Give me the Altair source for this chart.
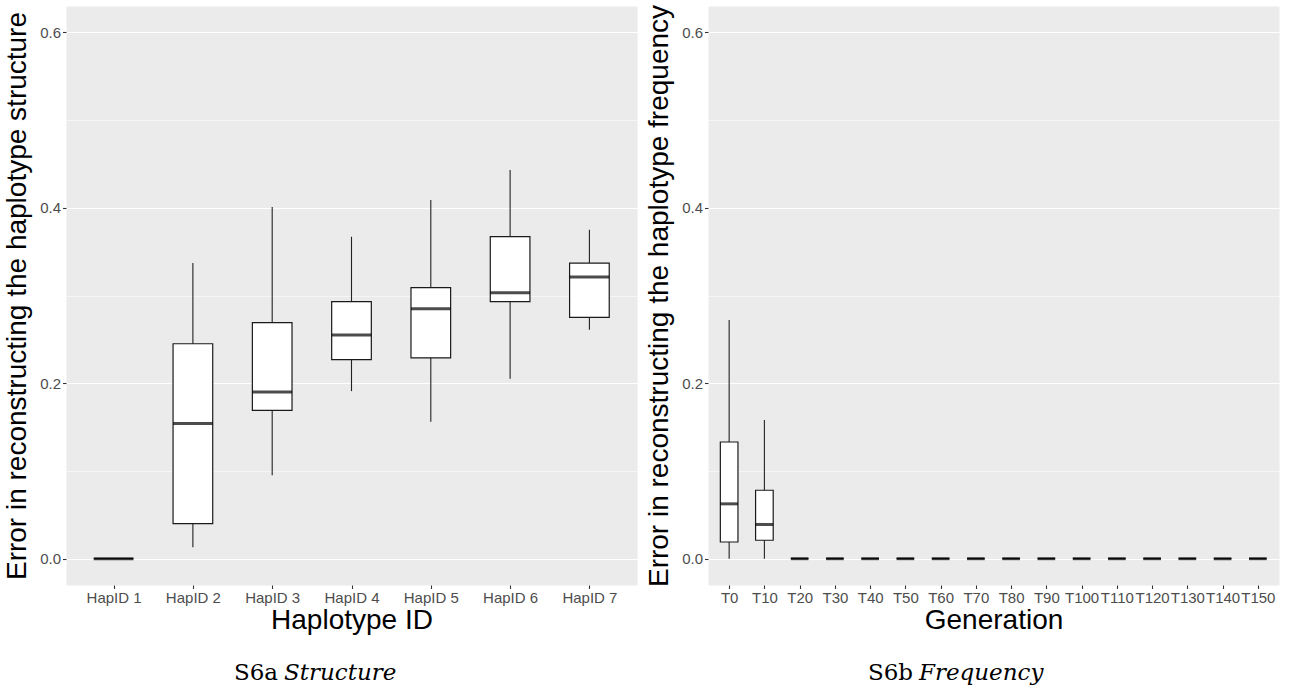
import altair as alt
import pandas as pd

# ---- data ----
hap_ids = ["HapID 1", "HapID 2", "HapID 3", "HapID 4", "HapID 5", "HapID 6", "HapID 7"]
a_lo = [0.0, 0.013, 0.095, 0.191, 0.156, 0.205, 0.261]
a_q1 = [0.0, 0.040, 0.169, 0.227, 0.229, 0.293, 0.275]
a_med = [0.0, 0.154, 0.190, 0.255, 0.285, 0.303, 0.321]
a_q3 = [0.0, 0.245, 0.269, 0.293, 0.309, 0.367, 0.337]
a_hi = [0.0, 0.337, 0.401, 0.367, 0.409, 0.443, 0.375]

generations = ["T0", "T10", "T20", "T30", "T40", "T50", "T60", "T70", "T80",
               "T90", "T100", "T110", "T120", "T130", "T140", "T150"]
b_lo = [0.0, 0.0, 0, 0, 0, 0, 0, 0, 0, 0, 0, 0, 0, 0, 0, 0]
b_q1 = [0.019, 0.021, 0, 0, 0, 0, 0, 0, 0, 0, 0, 0, 0, 0, 0, 0]
b_med = [0.0625, 0.039, 0, 0, 0, 0, 0, 0, 0, 0, 0, 0, 0, 0, 0, 0]
b_q3 = [0.133, 0.078, 0, 0, 0, 0, 0, 0, 0, 0, 0, 0, 0, 0, 0, 0]
b_hi = [0.272, 0.158, 0, 0, 0, 0, 0, 0, 0, 0, 0, 0, 0, 0, 0, 0]

y_ticks = [0.0, 0.1, 0.2, 0.3, 0.4, 0.5, 0.6]

W = 571
H = 579
SANS = "Liberation Sans"
SERIF = "DejaVu Serif"
MAJOR = "round(datum.value*10) % 2 == 0"


def panel(cats, lo, q1, med, q3, hi, xtitle, ytitle, cap_a, cap_b, cap_x):
    df = pd.DataFrame({"cat": cats, "lo": lo, "q1": q1, "med": med, "q3": q3, "hi": hi})
    step = W / (len(cats) - 1 + 1.2)
    bw = step * 0.5
    xenc = alt.X(
        "cat:N", sort=cats,
        scale=alt.Scale(type="point", padding=0.6),
        axis=alt.Axis(title=xtitle, labelAngle=0, labelOverlap=False, labelFlush=False,
                      labelPadding=2, titlePadding=1),
    )
    yscale = alt.Scale(domain=[-0.03, 0.63], nice=False, zero=False)
    yaxis = alt.Axis(
        title=ytitle,
        values=y_ticks,
        labelExpr=f"{MAJOR} ? format(datum.value, '.1f') : ''",
        gridWidth={"condition": {"test": MAJOR, "value": 1.1}, "value": 0.55},
        tickOpacity={"condition": {"test": MAJOR, "value": 1}, "value": 0},
        labelOverlap=False, labelFlush=False, labelPadding=2, titlePadding=8,
    )
    base = alt.Chart(df)
    whisk = base.mark_rule(color="#222222", strokeWidth=1.1).encode(
        x=xenc, y=alt.Y("lo:Q", scale=yscale, axis=yaxis), y2="hi:Q")
    box = base.mark_bar(size=bw, fill="white", stroke="#1a1a1a", strokeWidth=1.2).encode(
        x=xenc, y=alt.Y("q1:Q", scale=yscale, axis=yaxis), y2="q3:Q")
    mid = base.mark_tick(size=bw, thickness=3, color="black").encode(
        x=xenc, y=alt.Y("med:Q", scale=yscale, axis=yaxis))
    c1 = alt.Chart(pd.DataFrame({"t": [cap_a]})).mark_text(
        font=SERIF, fontSize=23, align="right", baseline="alphabetic", color="black"
    ).encode(x=alt.value(cap_x), y=alt.value(H + 95), text="t:N")
    c2 = alt.Chart(pd.DataFrame({"t": [cap_b]})).mark_text(
        font=SERIF, fontSize=23, fontStyle="italic", align="left", baseline="alphabetic",
        color="black"
    ).encode(x=alt.value(cap_x + 6), y=alt.value(H + 95), text="t:N")
    return alt.layer(whisk, box, mid, c1, c2).properties(width=W, height=H)


left = panel(hap_ids, a_lo, a_q1, a_med, a_q3, a_hi, "Haplotype ID",
             "Error in reconstructing the haplotype structure", "S6a", "Structure", 212)
right = panel(generations, b_lo, b_q1, b_med, b_q3, b_hi, "Generation",
              "Error in reconstructing the haplotype frequency", "S6b", "Frequency", 205)

chart = alt.hconcat(left, right, spacing=7).properties(
    padding={"left": 3, "top": 3, "right": 0, "bottom": 0}
).configure(
    background="white", font=SANS
).configure_view(
    fill="#EBEBEB", stroke="transparent"
).configure_axis(
    labelFont=SANS, titleFont=SANS, labelFontSize=15, labelColor="#4D4D4D",
    titleFontSize=28, titleFontWeight="normal", titleColor="black",
    tickColor="#333333", tickSize=3.5, tickWidth=1.1, domain=False,
    gridColor="white", gridWidth=1.1,
)

chart.save("out.html", embed_options={"renderer": "svg", "actions": False})
